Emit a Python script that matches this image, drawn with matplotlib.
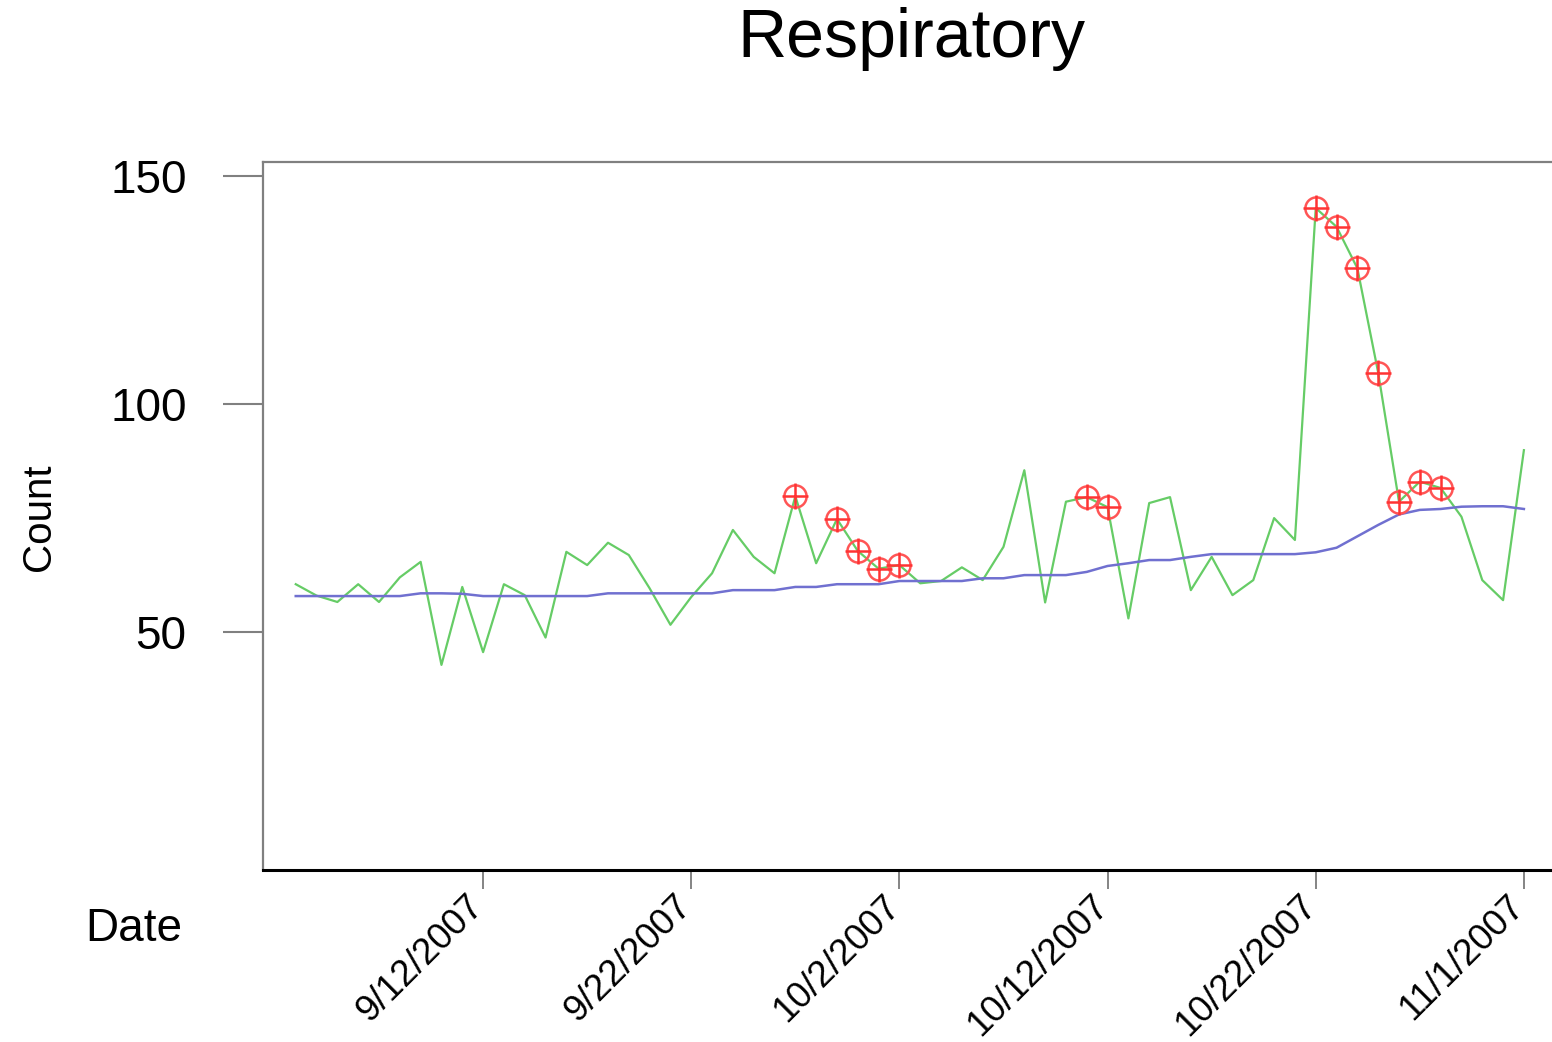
import numpy as np
import pandas as pd
from matplotlib import pyplot as plt
import matplotlib.transforms as mtransforms

plt.rcParams['font.family'] = ['Liberation Sans', 'DejaVu Sans']

# daily counts, 9/3/2007 .. 11/1/2007
dates = pd.date_range('2007-09-03', '2007-11-01', freq='D')
count = [60.5, 58.0, 56.6, 60.5, 56.6, 62.0, 65.4, 42.8, 59.9, 45.6,
         60.5, 58.1, 48.8, 67.6, 64.7, 69.6, 66.9, 59.6, 51.6, 57.7,
         62.9, 72.4, 66.5, 62.9, 79.8, 65.1, 74.8, 67.8, 63.9, 64.7,
         60.7, 61.2, 64.2, 61.4, 68.7, 85.5, 56.5, 78.6, 79.6, 77.4,
         53.0, 78.3, 79.6, 59.2, 66.5, 58.1, 61.4, 75.0, 70.2, 143.0,
         138.9, 129.8, 106.9, 78.6, 83.0, 81.6, 75.3, 61.4, 57.0, 89.9]
baseline = [57.9, 57.9, 57.9, 57.9, 57.9, 57.9, 58.5, 58.5, 58.4, 57.9,
            57.9, 57.9, 57.9, 57.9, 57.9, 58.5, 58.5, 58.5, 58.5, 58.5,
            58.5, 59.2, 59.2, 59.2, 59.9, 59.9, 60.5, 60.5, 60.5, 61.2,
            61.2, 61.2, 61.2, 61.8, 61.8, 62.5, 62.5, 62.5, 63.2, 64.5,
            65.1, 65.8, 65.8, 66.5, 67.1, 67.1, 67.1, 67.1, 67.1, 67.5,
            68.5, 71.0, 73.5, 75.8, 76.8, 77.0, 77.5, 77.6, 77.6, 77.0]
alerts = [24, 26, 27, 28, 29, 38, 39, 49, 50, 51, 52, 53, 54, 55]

tick_dates = pd.to_datetime(['2007-09-12', '2007-09-22', '2007-10-02',
                             '2007-10-12', '2007-10-22', '2007-11-01'])
tick_labels = ['9/12/2007', '9/22/2007', '10/2/2007',
               '10/12/2007', '10/22/2007', '11/1/2007']

fig = plt.figure(figsize=(15.52, 10.42), dpi=100)
ax = fig.add_axes([0.1695, 0.165, 0.8305, 0.6795])

ax.plot(dates, count, color='#66cc66', lw=1.6, zorder=2)
ax.plot(dates, baseline, color='#7070d0', lw=1.8, zorder=3)
adates = dates[alerts]
avals = np.array(count)[alerts]
ax.plot(adates, avals, ls='none', marker='o', ms=16, mfc='none',
        mec='#ff5555', mew=1.8, zorder=4)
ax.plot(adates, avals, ls='none', marker='+', ms=19, mec='#ff3333',
        mew=1.8, zorder=4)

ax.set_xlim(dates[0] - pd.Timedelta(days=1.57), dates[0] + pd.Timedelta(days=60.35))
ax.set_ylim(-2.2, 153.1)
ax.tick_params(axis='y', length=29, width=1.5, color='#808080', pad=26)
ax.tick_params(axis='x', length=14, width=1.2, color='#707070', pad=4)
ax.set_yticks([50, 100, 150])
ax.set_yticklabels(['50', '100', '150'], fontsize=33)
ax.set_xticks(tick_dates)
ax.set_xticklabels(tick_labels, fontsize=26.5, rotation=45, ha='right',
                   rotation_mode='anchor')
# pull the rotated date labels back under their ticks
shift = mtransforms.ScaledTranslation(-0.17, 0.07, fig.dpi_scale_trans)
for lab in ax.get_xticklabels():
    lab.set_transform(lab.get_transform() + shift)

ax.spines['right'].set_visible(False)
for s in ['left', 'top']:
    ax.spines[s].set_color('#808080')
    ax.spines[s].set_linewidth(1.6)
ax.spines['bottom'].set_color('black')
ax.spines['bottom'].set_linewidth(2.2)

fig.text(0.5875, 0.963, 'Respiratory', fontsize=49, ha='center', va='center')
fig.text(0.025, 0.504, 'Count', fontsize=29, rotation=90, ha='center', va='center')
fig.text(0.086, 0.108, 'Date', fontsize=33, ha='center', va='center')

plt.savefig('out.png', dpi=100)
